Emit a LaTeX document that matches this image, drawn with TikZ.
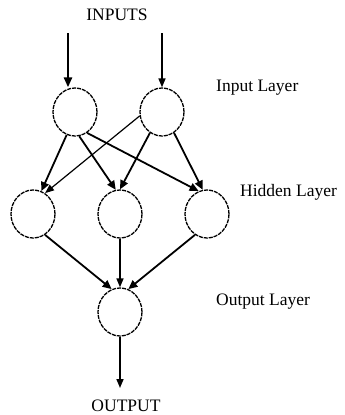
\documentclass[tikz,border=0pt]{standalone}
\usepackage{fontspec}
\setmainfont{Liberation Serif}
\usetikzlibrary{arrows.meta,shapes.geometric}
\begin{document}
\begin{tikzpicture}[x=1pt,y=-1pt,
  neuron/.style={ellipse,draw,line width=1.3pt,dash pattern=on 4pt off 1pt,
                 minimum width=44pt,minimum height=48pt,inner sep=0pt},
  lbl/.style={font=\fontsize{17.5}{20}\selectfont,inner sep=0pt},
  link/.style={line width=1.8pt,-{Triangle[length=9pt,width=8pt]}},
  feed/.style={line width=1.6pt,-{Triangle[length=9pt,width=7pt]}}]
\useasboundingbox (0,0) rectangle (345,415);
% layer labels
\node[lbl] (inputs) at (117,15) {INPUTS};
\node[lbl] (outputs) at (126,406) {OUTPUT};
\node[lbl,anchor=west] (linput) at (216,88) {Input Layer};
\node[lbl,anchor=west] (lhidden) at (240,192) {Hidden Layer};
\node[lbl,anchor=west] (loutput) at (216,302) {Output Layer};
% neurons
\node[neuron] (i1) at (75,112) {};
\node[neuron] (i2) at (162,112) {};
\node[neuron] (h1) at (33,214) {};
\node[neuron] (h2) at (120,214) {};
\node[neuron] (h3) at (207,214) {};
\node[neuron] (o1) at (120,312) {};
% free ends of the input and output arrows
\coordinate (a1) at (68,33);
\coordinate (a2) at (162,33);
\coordinate (z1) at (120,388);
% inputs
\draw[line width=2.6pt,-{Triangle[length=10pt,width=8pt]}] (a1) -- (a1 |- i1.north);
\draw[feed] (a2) -- (i2.north);
% input layer to hidden layer
\draw[link] (i1.-110) -- (h1.70);
\draw[link] (i1.-80) -- (h2.100);
\draw[link] (i1.-60) -- (h3.110);
\draw[feed,line width=1.2pt] (i2.190) -- (h1.60);
\draw[link] (i2.-120) -- (h2.90);
\draw[link] (i2.-60) -- (h3.100);
% hidden layer to output layer
\draw[link] (h1.-60) -- (o1.110);
\draw[feed] (h2.south) -- (o1.north);
\draw[link] (h3.-120) -- (o1.70);
% output
\draw[feed] (o1.south) -- (z1);
\end{tikzpicture}
\end{document}
